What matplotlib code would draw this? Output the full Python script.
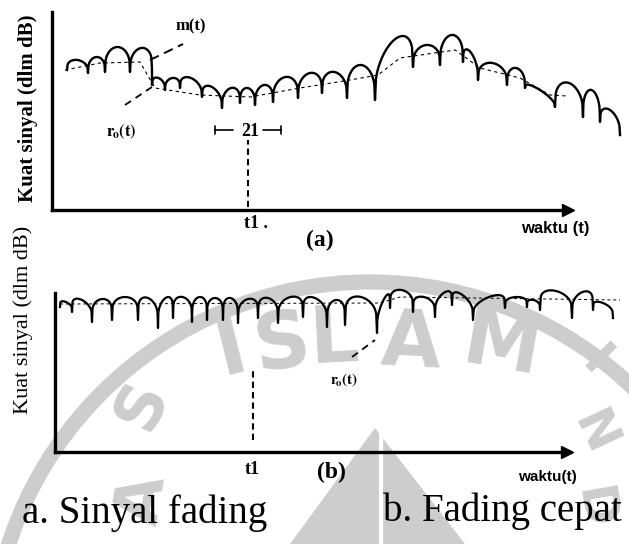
import numpy as np
import matplotlib.pyplot as plt
from matplotlib.patches import Circle, Polygon

plt.rcParams['font.family'] = ['Liberation Serif', 'DejaVu Serif']
plt.rcParams['mathtext.fontset'] = 'stix'

# panel (a): slow + fast fading, dips (time, level) and arch peak levels
a_dip_t = [15, 36, 53, 78, 100, 100, 113, 128, 150, 170, 188, 203, 221, 246,
           270, 295, 323, 361, 388, 411, 426, 455, 473, 503, 531, 548, 568]
a_dip_v = [140, 137, 138, 138, 142, 125, 120, 122, 113, 102, 107, 105, 108, 112,
           117, 112, 110, 143, 145, 148, 130, 125, 122, 103, 93, 88, 75]
a_peak = [150, 153, 163, 162, np.nan, 132, 132, 132, 123, 122, 122, 125, 133,
          137, 138, 145, 170, 165, 175, 158, 147, 142, 120, 127, 120, 100]
# local mean r0(t) for panel (a)
a_mean_t = [13, 48, 88, 103, 148, 198, 248, 298, 326, 348, 403, 428, 468, 498, 533, 568]
a_mean_v = [140, 147, 148, 122, 115, 113, 122, 130, 135, 152, 160, 142, 132, 115, 113, 92]

# panel (b): fast fading only
b_dip_t = [5, 17, 37, 57, 83, 103, 118, 137, 152, 168, 183, 203, 223, 248,
           272, 290, 322, 335, 358, 380, 397, 418, 450, 472, 485, 517, 538, 558]
b_dip_v = [145, 140, 130, 132, 132, 124, 134, 130, 132, 132, 129, 134, 129, 135,
           125, 127, 119, 144, 140, 135, 147, 132, 144, 145, 142, 134, 142, 134]
b_peak = [150, 152, 153, 155, 154, 154, 155, 155, 154, 154, 153, 154, 155, 154,
          152, 155, 152, 162, 155, 159, 157, 155, 155, 152, 161, 160, 149]
b_mean_t = [5, 325, 345, 565]
b_mean_v = [148, 149, 155, 152]

t1_a, half_win = 196, 33
t1_b = 198


def arches(dip_t, dip_v, peak_v, sharp):
    xs, ys = [], []
    for i in range(len(peak_v)):
        u = np.linspace(0, 1, 40)
        t = dip_t[i] + (dip_t[i + 1] - dip_t[i]) * u
        base = dip_v[i] + (dip_v[i + 1] - dip_v[i]) * u
        if np.isnan(peak_v[i]):
            bump = 0 * u
        else:
            amp = peak_v[i] - (dip_v[i] + dip_v[i + 1]) / 2
            bump = amp * np.sin(np.pi * u) ** sharp
        xs.extend(t)
        ys.extend(base + bump)
    return xs, ys


def setup(ax, xmax, ymax):
    ax.set_xlim(0, xmax)
    ax.set_ylim(0, ymax)
    ax.set_facecolor('none')
    for s in ['top', 'right']:
        ax.spines[s].set_visible(False)
    for s in ['left', 'bottom']:
        ax.spines[s].set_linewidth(2.4)
    ax.set_xticks([])
    ax.set_yticks([])
    ax.plot(1, 0, '>', color='black', ms=9, transform=ax.transAxes, clip_on=False)


fig = plt.figure(figsize=(6.29, 5.44), dpi=100)

# watermark in the background
bg = fig.add_axes([0, 0, 1, 1], zorder=-1)
bg.set_xlim(0, 629)
bg.set_ylim(544, 0)
bg.axis('off')
wm = '#cdcdcd'
bg.add_patch(Circle((370, 662), 380, fill=False, lw=11, ec=wm))
bg.add_patch(Polygon([(375, 428), (290, 544), (465, 544)], closed=True, fc=wm, ec='none'))
bg.plot([381, 381], [430, 544], color='white', lw=3)
for ch, x, y, r, fs in [('I', 232, 350, 14, 56), ('S', 282, 345, 8, 56),
                        ('L', 334, 340, 3, 56), ('A', 411, 343, -3, 56),
                        ('M', 502, 347, -10, 56),
                        ('S', 142, 405, 65, 46), ('A', 144, 500, 80, 46),
                        ('I', 596, 362, -45, 36), ('N', 594, 433, -65, 36),
                        ('D', 594, 508, -80, 36)]:
    bg.text(x, y, ch, fontsize=fs, color=wm, rotation=r, family='DejaVu Sans',
            weight='bold', ha='center', va='center')

# panel (a)
axa = fig.add_axes([52 / 629, 1 - 210 / 544, 516 / 629, 198 / 544])
setup(axa, 516, 198)
x, y = arches(a_dip_t, a_dip_v, a_peak, 0.3)
axa.plot(x, y, color='black', lw=1.7, clip_on=False)
axa.plot(a_mean_t, a_mean_v, color='black', lw=0.8, ls=(0, (3, 3)))
axa.plot([t1_a, t1_a], [3, 70], color='black', lw=1.5, ls=(0, (3, 2)))
bar = dict(arrowstyle='|-|,widthA=0,widthB=0.3', lw=1.2, shrinkA=0, shrinkB=0)
axa.annotate('', xy=(t1_a - half_win, 80), xytext=(t1_a - 15, 80), arrowprops=bar)
axa.annotate('', xy=(t1_a + half_win, 80), xytext=(t1_a + 15, 80), arrowprops=bar)
axa.text(t1_a + 2, 79, '21', ha='center', va='center', fontsize=13, weight='bold')
axa.text(139, 184, 'm(t)', ha='center', va='center', fontsize=12, weight='bold')
axa.plot([98, 131], [150, 166], color='black', lw=1.4, ls=(0, (5, 3)))
axa.text(69, 78, r'$\mathbf{r_{\!o}(t)}$', ha='center', va='center', fontsize=12)
axa.plot([73, 100], [105, 123], color='black', lw=1.3, ls=(0, (4, 3)))
axa.text(204, -14, 't1 .', ha='center', va='center', fontsize=13, weight='bold')
axa.text(268, -30, '(a)', ha='center', va='center', fontsize=17, weight='bold')
axa.text(503, -18, 'waktu (t)', ha='center', va='center', fontsize=12,
         weight='bold', family='Liberation Sans')
fig.text(28 / 629, 1 - 108 / 544, 'Kuat sinyal (dlm dB)', rotation=90,
         ha='center', va='center', fontsize=15, weight='bold')

# panel (b)
axb = fig.add_axes([55 / 629, 1 - 452 / 544, 512 / 629, 159 / 544])
setup(axb, 512, 159)
x, y = arches(b_dip_t, b_dip_v, b_peak, 0.2)
axb.plot(x, y, color='black', lw=1.6, clip_on=False)
axb.plot(b_mean_t, b_mean_v, color='black', lw=0.7, ls=(0, (3, 3)), clip_on=False)
axb.plot([t1_b, t1_b], [12, 84], color='black', lw=1.5, ls=(0, (3, 2)))
axb.text(289, 72, r'$\mathbf{r_{\!o}(t)}$', ha='center', va='center', fontsize=11)
axb.plot([297, 320], [95, 112], color='black', lw=1.3, ls=(0, (4, 3)))
axb.text(197, -18, 't1', ha='center', va='center', fontsize=13, weight='bold')
axb.text(276, -20, '(b)', ha='center', va='center', fontsize=17, weight='bold')
axb.text(492, -25, 'waktu(t)', ha='center', va='center', fontsize=11,
         weight='bold', family='Liberation Sans')
fig.text(23 / 629, 1 - 320 / 544, 'Kuat sinyal (dlm dB)', rotation=90,
         ha='center', va='center', fontsize=16)

# captions
fig.text(22 / 629, 1 - 523 / 544, 'a. Sinyal fading', ha='left', va='baseline', fontsize=28)
fig.text(383 / 629, 1 - 521 / 544, 'b. Fading cepat', ha='left', va='baseline', fontsize=28)

fig.savefig('out.png', dpi=100)
